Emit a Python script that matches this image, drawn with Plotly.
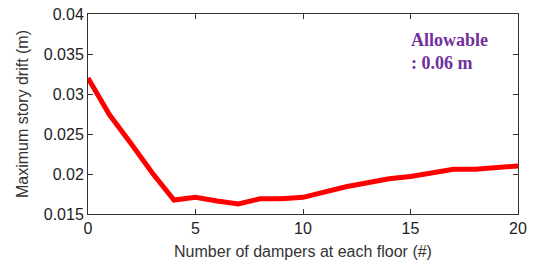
import plotly.graph_objects as go

dampers = list(range(0, 21))
drift = [0.0320, 0.0274, 0.0238, 0.0201, 0.01675, 0.01708, 0.01663, 0.01625,
         0.0169, 0.0169, 0.01708, 0.0178, 0.0184, 0.0189, 0.0194, 0.0197,
         0.0202, 0.0206, 0.0206, 0.0208, 0.0210]

x_ticks = [0, 5, 10, 15, 20]
x_ticktext = ["0", "5", "10", "15", "20"]
y_ticks = [0.015, 0.02, 0.025, 0.03, 0.035, 0.04]
y_ticktext = ["0.015", "0.02", "0.025", "0.03", "0.035", "0.04"]

fig = go.Figure()
fig.add_trace(go.Scatter(x=dampers, y=drift, mode="lines",
                         line=dict(color="#ff0000", width=5), showlegend=False,
                         cliponaxis=True))

axis_common = dict(showline=True, linecolor="#333333", linewidth=1, mirror="ticks",
                   ticks="inside", ticklen=5, tickcolor="#333333", showgrid=False,
                   zeroline=False, automargin=False,
                   tickfont=dict(family="Arial, Liberation Sans", size=16, color="#222222"))

fig.update_xaxes(range=[0, 20], tickvals=x_ticks, ticktext=x_ticktext,
                 title=dict(text="Number of dampers at each floor (#)",
                            font=dict(family="Arial, Liberation Sans", size=16, color="#333333"),
                            standoff=9),
                 **axis_common)
fig.update_yaxes(range=[0.015, 0.04], tickvals=y_ticks, ticktext=y_ticktext,
                 title=dict(text="Maximum story drift (m)",
                            font=dict(family="Arial, Liberation Sans", size=16, color="#333333"),
                            standoff=11),
                 **axis_common)

fig.add_annotation(x=0.747, y=0.81, xref="paper", yref="paper", xanchor="left", yanchor="middle",
                   align="left", showarrow=False,
                   text="<b>Allowable<br>: 0.06 m</b>",
                   font=dict(family="Times New Roman, Liberation Serif", size=18, color="#7030a0"))

fig.update_layout(width=538, height=264, margin=dict(l=88, r=20, t=14, b=50),
                  paper_bgcolor="white", plot_bgcolor="white")

fig.write_html("out.html", config={"displayModeBar": False},
               post_script="document.body.style.margin='0';document.body.style.overflow='hidden';")
